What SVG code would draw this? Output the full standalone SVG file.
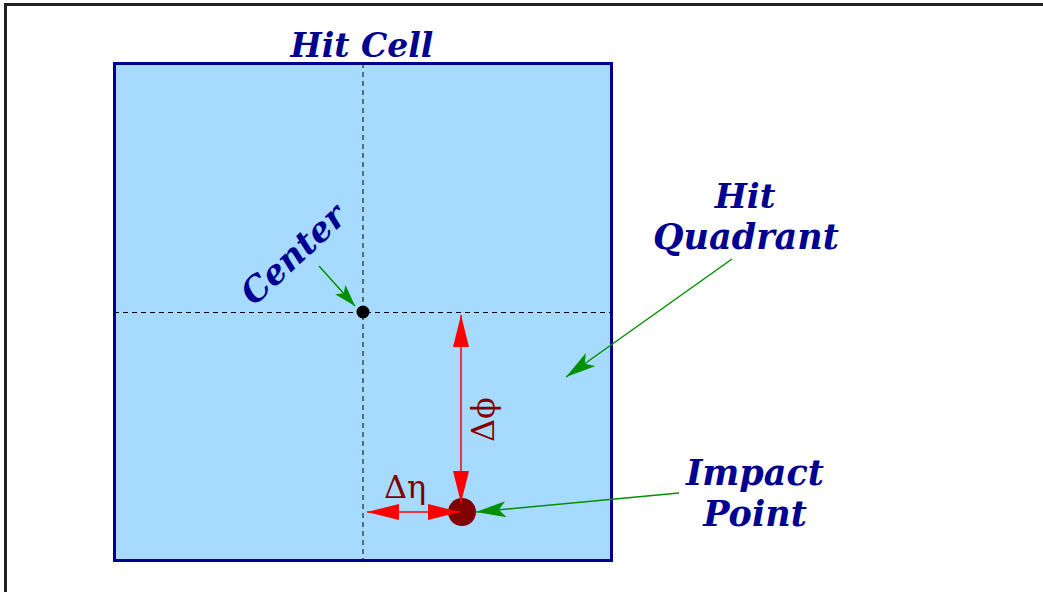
<svg xmlns="http://www.w3.org/2000/svg" width="1043" height="592" viewBox="0 0 1043 592">
<defs>
<style>
.lbl{font-family:"DejaVu Serif","Liberation Serif",serif;font-weight:bold;font-style:italic;fill:#000090;font-size:35px;text-anchor:middle}
.greek{font-family:"DejaVu Serif","Liberation Serif",serif;fill:#800000;font-size:32px}
.dash{stroke:#000;stroke-width:1;stroke-dasharray:5,4;fill:none}
.g{stroke:#009000;stroke-width:1.5;fill:none}
.r{stroke:#ff0000;stroke-width:1.5;fill:none}
</style>
<marker id="ga" viewBox="0 0 30 16" refX="30" refY="8" markerWidth="30" markerHeight="16" markerUnits="userSpaceOnUse" orient="auto">
<path d="M0,0 L30,8 L0,16 L7,8 Z" fill="#009000"/>
</marker>
<marker id="gs" viewBox="0 0 22 14" refX="22" refY="7" markerWidth="22" markerHeight="14" markerUnits="userSpaceOnUse" orient="auto">
<path d="M0,0 L22,7 L0,14 L5,7 Z" fill="#009000"/>
</marker>
<marker id="ra" viewBox="0 0 32 16" refX="32" refY="8" markerWidth="32" markerHeight="16" markerUnits="userSpaceOnUse" orient="auto-start-reverse">
<path d="M0,0 L32,8 L0,16 Z" fill="#ff0000"/>
</marker>
</defs>
<rect width="1043" height="592" fill="#fff"/>
<path d="M5.5,592 V4.5 H1043" fill="none" stroke="#222" stroke-width="3"/>
<g id="cell">
<rect x="114.5" y="63.5" width="497" height="497" fill="#a6dbff" stroke="#000090" stroke-width="3"/>
<line class="dash" x1="363" y1="63" x2="363" y2="561"/>
<line class="dash" x1="114" y1="312.5" x2="612" y2="312.5"/>
<text class="lbl" x="362" y="57" style="font-size:33px">Hit Cell</text>
</g>
<g id="center">
<circle cx="363" cy="312" r="6.5" fill="#000"/>
<text class="lbl" transform="translate(301,263) rotate(-43)" style="font-size:34px">Center</text>
</g>
<g id="impact">
<circle cx="462" cy="512" r="14" fill="#800000"/>
<text class="lbl" x="755" y="485">Impact</text>
<text class="lbl" x="755" y="526">Point</text>
</g>
<g id="quadrant">
<text class="lbl" x="745" y="208" style="font-size:34px">Hit</text>
<text class="lbl" x="746" y="249">Quadrant</text>
</g>
<g id="connectors">
<line class="g" x1="319" y1="266" x2="355" y2="306" marker-end="url(#gs)"/>
<line class="g" x1="732" y1="259" x2="566" y2="377" marker-end="url(#ga)"/>
<line class="g" x1="679" y1="493" x2="476" y2="512" marker-end="url(#ga)"/>
<line class="r" x1="461" y1="315" x2="461" y2="503" marker-start="url(#ra)" marker-end="url(#ra)"/>
<line class="r" x1="367" y1="512" x2="460" y2="512" marker-start="url(#ra)" marker-end="url(#ra)"/>
<text class="greek" transform="translate(494,442) rotate(-90)">Δϕ</text>
<text class="greek" x="384" y="498">Δη</text>
</g>
</svg>
